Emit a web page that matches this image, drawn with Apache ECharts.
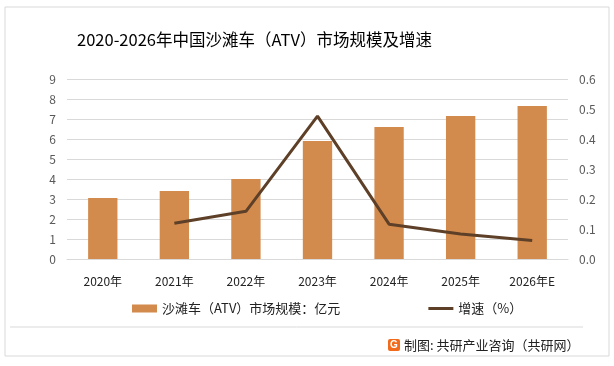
<!DOCTYPE html>
<html><head><meta charset="utf-8">
<script src="https://cdn.jsdelivr.net/npm/echarts@6/dist/echarts.min.js"></script>
<style>html,body{margin:0;padding:0;background:#fff}#c{width:614px;height:366px}</style>
</head><body><div id="c"></div>
<script>
var categories = ['2020年','2021年','2022年','2023年','2024年','2025年','2026年E'];
var marketSize = [3.05, 3.4, 4.0, 5.9, 6.6, 7.15, 7.65];
var growth = [null, 0.119, 0.159, 0.476, 0.116, 0.083, 0.062];
var leftTicks = [0,1,2,3,4,5,6,7,8,9];
var rightTicks = ['0.0','0.1','0.2','0.3','0.4','0.5','0.6'];
var titleText = '2020-2026年中国沙滩车（ATV）市场规模及增速';
var barName = '沙滩车（ATV）市场规模：亿元';
var lineName = '增速（%）';
var footerText = '制图: 共研产业咨询（共研网）';

var font = '"Noto Sans CJK SC", "Microsoft YaHei", sans-serif';
var chart = echarts.init(document.getElementById('c'));
chart.setOption({
  animation: false,
  backgroundColor: '#fff',
  title: {text: titleText, left: 72, top: 26, textStyle: {fontFamily: font, fontSize: 16.5, fontWeight: 'normal', color: '#000'}},
  grid: {left: 67, right: 46, top: 79, bottom: 107},
  legend: {
    bottom: 46, left: 127, itemGap: 88, itemWidth: 25, itemHeight: 8,
    textStyle: {fontFamily: font, fontSize: 13, color: '#222'},
    data: [{name: barName, icon: 'rect'}, {name: lineName, icon: 'path://M0,0 L25,0 L25,3 L0,3 Z'}]
  },
  xAxis: {type: 'category', data: categories,
    axisLine: {show: true, lineStyle: {color: '#d9d9d9'}}, axisTick: {show: false},
    axisLabel: {fontFamily: font, fontSize: 12, color: '#222', margin: 16}},
  yAxis: [
    {type: 'value', min: 0, max: 9, interval: 1, axisLine: {show: false}, axisTick: {show: false},
     axisLabel: {fontFamily: font, fontSize: 12, color: '#595959', margin: 11, formatter: function(v){return leftTicks.indexOf(v)>=0? String(v):'';}},
     splitLine: {lineStyle: {color: '#d9d9d9', width: 1}}},
    {type: 'value', min: 0, max: 0.6, interval: 0.1, axisLine: {show: false}, axisTick: {show: false},
     axisLabel: {fontFamily: font, fontSize: 12, color: '#595959', margin: 11, formatter: function(v){return rightTicks[Math.round(v*10)];}},
     splitLine: {show: false}}
  ],
  series: [
    {name: barName, type: 'bar', data: marketSize, barWidth: '41%', itemStyle: {color: '#D38B4D'}},
    {name: lineName, type: 'line', yAxisIndex: 1, data: growth, symbol: 'none', connectNulls: false,
     lineStyle: {color: '#5E4028', width: 3}, itemStyle: {color: '#5E4028'}}
  ],
  graphic: [
    {type: 'rect', shape: {x: 5, y: 7, width: 604, height: 349}, style: {fill: null, stroke: '#d9d9d9', lineWidth: 1}, silent: true},
    {type: 'line', shape: {x1: 10, y1: 327, x2: 583, y2: 327}, style: {stroke: '#d9d9d9', lineWidth: 1}},
    {type: 'rect', shape: {x: 388, y: 339, width: 12, height: 12, r: 2}, style: {fill: '#F26A1B'}},
    {type: 'text', style: {text: 'G', x: 394, y: 345, textAlign: 'center', textVerticalAlign: 'middle', font: 'bold 10px sans-serif', fill: '#fff'}},
    {type: 'text', style: {text: footerText, x: 404, y: 345, textVerticalAlign: 'middle', font: '13px ' + font, fill: '#222'}}
  ]
});
</script></body></html>
